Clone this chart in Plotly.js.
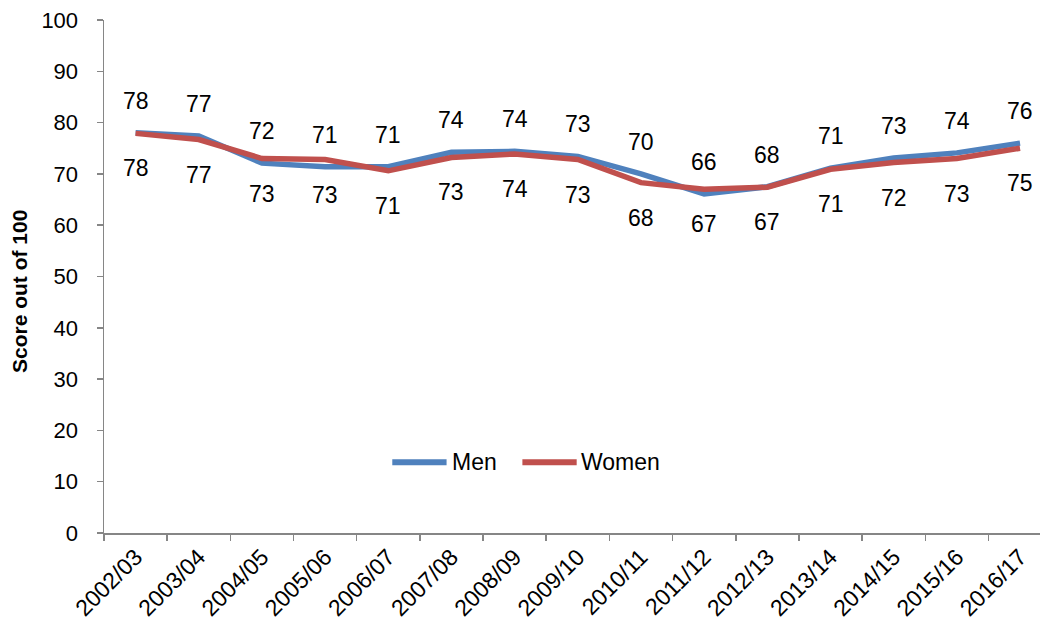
<!DOCTYPE html>
<html>
<head>
<meta charset="utf-8">
<script src="https://cdn.plot.ly/plotly-3.0.1.min.js"></script>
<style>
  html, body { margin: 0; padding: 0; background: #ffffff; }
  #chart { width: 1040px; height: 626px; }
</style>
</head>
<body>
<div id="chart"></div>
<script>
// Survey years
const years = ["2002/03", "2003/04", "2004/05", "2005/06", "2006/07", "2007/08", "2008/09",
               "2009/10", "2010/11", "2011/12", "2012/13", "2013/14", "2014/15", "2015/16", "2016/17"];

// Average score out of 100
const men   = [78.0, 77.4, 72.1, 71.4, 71.4, 74.2, 74.4, 73.4, 70.0, 66.1, 67.5, 71.1, 73.1, 74.1, 76.0];
const women = [77.9, 76.7, 73.0, 72.8, 70.6, 73.2, 73.9, 72.8, 68.3, 67.0, 67.4, 70.9, 72.2, 73.0, 75.0];

const seriesNames = ["Men", "Women"];
const yTicks = [0, 10, 20, 30, 40, 50, 60, 70, 80, 90, 100];
const yTitle = "Score out of 100";

const BLUE = "#4F81BD";
const RED = "#C0504D";
const AXIS = "#868686";
const FONT = "Liberation Sans, Arial, sans-serif";

const traces = [
  { x: years, y: men, name: seriesNames[0], type: "scatter", mode: "lines",
    line: { color: BLUE, width: 5.5 } },
  { x: years, y: women, name: seriesNames[1], type: "scatter", mode: "lines",
    line: { color: RED, width: 5.5 } }
];

// Rounded value labels: men above the line, women below
const annotations = [];
years.forEach((yr, i) => {
  annotations.push({ x: yr, y: men[i], text: String(Math.round(men[i])), showarrow: false,
    xref: "x", yref: "y", yshift: 32, font: { family: FONT, size: 23, color: "#000" } });
  annotations.push({ x: yr, y: women[i], text: String(Math.round(women[i])), showarrow: false,
    xref: "x", yref: "y", yshift: -35, font: { family: FONT, size: 23, color: "#000" } });
});

// Vertical axis title
annotations.push({ xref: "paper", yref: "paper", x: -0.0897, y: 0.503, yshift: -17,
  xanchor: "center", yanchor: "middle",
  textangle: -90, text: "<b>" + yTitle + "</b>", showarrow: false,
  font: { family: FONT, size: 21, color: "#000" } });

// Legend drawn inside the plot: long line swatch followed by the series name
const shapes = [];
const legendItems = [
  { name: seriesNames[0], color: BLUE, x0: 0.308, x1: 0.366, tx: 0.370 },
  { name: seriesNames[1], color: RED,  x0: 0.447, x1: 0.505, tx: 0.507 }
];
const legendY = 0.138;
legendItems.forEach(it => {
  shapes.push({ type: "line", xref: "paper", yref: "paper", x0: it.x0, x1: it.x1, y0: legendY, y1: legendY,
    line: { color: it.color, width: 6 } });
  annotations.push({ xref: "paper", yref: "paper", x: it.tx, y: legendY, xanchor: "left", yanchor: "middle",
    text: it.name, showarrow: false, font: { family: FONT, size: 23, color: "#000" } });
});

const layout = {
  width: 1040, height: 626,
  margin: { l: 104, r: 0, t: 20, b: 93 },
  paper_bgcolor: "#ffffff", plot_bgcolor: "#ffffff",
  font: { family: FONT, color: "#000" },
  showlegend: false,
  xaxis: {
    type: "category", range: [-0.5, 14.316],
    showline: true, linecolor: AXIS, linewidth: 1.5,
    ticks: "outside", tickson: "boundaries", ticklen: 6, tickcolor: AXIS, tickwidth: 1.5,
    tickangle: -45, tickfont: { family: FONT, size: 23, color: "#000" },
    showgrid: false, zeroline: false
  },
  yaxis: {
    range: [0, 100], tickvals: yTicks,
    showline: true, linecolor: AXIS, linewidth: 1.5,
    ticks: "outside", ticklen: 6, tickcolor: AXIS, tickwidth: 1.5,
    ticklabelstandoff: 14,
    tickfont: { family: FONT, size: 22, color: "#000" },
    showgrid: false, zeroline: false
  },
  shapes: shapes,
  annotations: annotations
};

Plotly.newPlot("chart", traces, layout, { displayModeBar: false, staticPlot: true });
</script>
</body>
</html>
